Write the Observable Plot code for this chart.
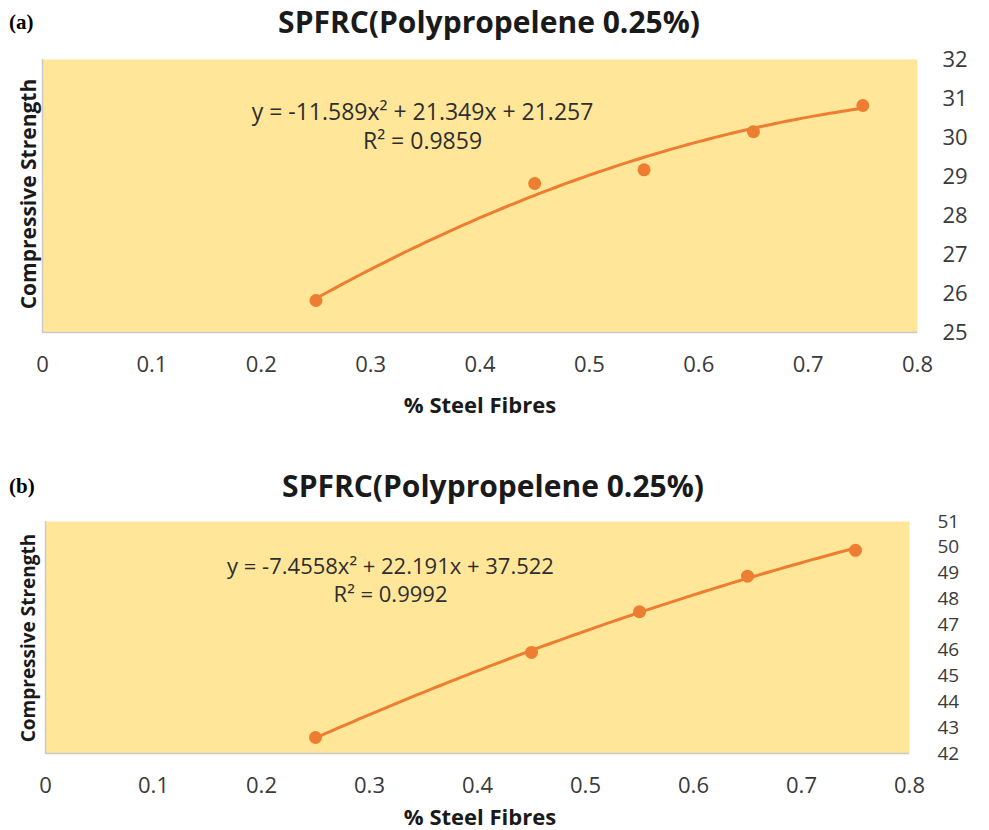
<!DOCTYPE html>
<html><head><meta charset="utf-8">
<script src="https://cdn.jsdelivr.net/npm/d3@7"></script>
<script src="https://cdn.jsdelivr.net/npm/@observablehq/plot@0.6"></script>
<style>
body{margin:0;background:#fff;}
#wrap{position:relative;width:989px;height:830px;overflow:hidden;font-family:"Open Sans",sans-serif;}
.abs{position:absolute;white-space:nowrap;line-height:1;}
.panel{position:absolute;left:0;}
.title{font-weight:700;font-size:30px;color:#1a1a1a;transform:translate(-50%,-50%);}
.tag{font-family:"Liberation Serif",serif;font-weight:700;font-size:21px;color:#000;transform:translate(0,-50%);}
.xlab{font-weight:700;font-size:22px;color:#1a1a1a;transform:translate(-50%,-50%);}
.ylab{font-weight:700;color:#1a1a1a;transform:translate(-50%,-50%) rotate(-90deg);}
</style></head>
<body><div id="wrap"></div>
<script>
// Shared
const xTicks = [0, 0.1, 0.2, 0.3, 0.4, 0.5, 0.6, 0.7, 0.8];
const fibre = [0.25, 0.45, 0.55, 0.65, 0.75];
const titleText = "SPFRC(Polypropelene 0.25%)";
const xLabel = "% Steel Fibres";
const yLabel = "Compressive Strength";

// Panel (a)
const strengthA = [25.82, 28.82, 29.17, 30.15, 30.82];
const yTicksA = [25, 26, 27, 28, 29, 30, 31, 32];
const coefA = [-11.589, 21.349, 21.257];
const eqA = ["y = -11.589x² + 21.349x + 21.257", "R² = 0.9859"];

// Panel (b)
const strengthB = [42.62, 45.92, 47.5, 48.88, 49.88];
const yTicksB = [42, 43, 44, 45, 46, 47, 48, 49, 50, 51];
const coefB = [-7.4558, 22.191, 37.522];
const eqB = ["y = -7.4558x² + 22.191x + 37.522", "R² = 0.9992"];

const orange = "#ED7D31";
const wrap = document.getElementById("wrap");

function panel(cfg) {
  const pts = fibre.map((f, i) => ({x: f, y: cfg.values[i]}));
  const [a, b, c] = cfg.coef;
  const trend = d3.range(0.25, 0.7501, 0.005).map(x => ({x, y: a * x * x + b * x + c}));
  const plot = Plot.plot({
    width: 989,
    height: cfg.height,
    marginTop: cfg.mt, marginBottom: cfg.mb, marginLeft: cfg.ml, marginRight: cfg.mr,
    style: {fontFamily: "Open Sans, sans-serif", background: "transparent", overflow: "visible"},
    x: {domain: [0, 0.8]},
    y: {domain: [cfg.yTicks[0], cfg.yTicks[cfg.yTicks.length - 1]]},
    marks: [
      Plot.frame({fill: "#FFE699", stroke: null}),
      Plot.ruleX([0], {stroke: "#c9c9c9", strokeWidth: 1.5}),
      Plot.ruleY([cfg.yTicks[0]], {stroke: "#c9c9c9", strokeWidth: 1.5}),
      Plot.axisX({ticks: xTicks, tickSize: 0, tickPadding: cfg.xpad, tickFormat: d => String(d), fontSize: 22, fill: "#3a3a3a", label: null}),
      Plot.axisY({anchor: "right", ticks: cfg.yTicks, tickSize: 0, tickPadding: cfg.ypad, tickFormat: d => String(d), fontSize: cfg.yfs, fill: "#3a3a3a", label: null, textAnchor: "start"}),
      Plot.line(trend, {x: "x", y: "y", stroke: orange, strokeWidth: 3}),
      Plot.dot(pts, {x: "x", y: "y", r: 6.5, fill: orange, stroke: null}),
      Plot.text([cfg.eq[0]], {frameAnchor: "top-left", lineAnchor: "middle", dx: cfg.eqx, dy: cfg.eqy, text: d => d, fontSize: cfg.eqfs, fill: "#2e2e2e", textAnchor: "middle"}),
      Plot.text([cfg.eq[1]], {frameAnchor: "top-left", lineAnchor: "middle", dx: cfg.eqx, dy: cfg.eqy + cfg.eqgap, text: d => d, fontSize: cfg.eqfs, fill: "#2e2e2e", textAnchor: "middle"})
    ]
  });
  plot.classList.add("panel");
  plot.style.top = cfg.top + "px";
  wrap.appendChild(plot);
  const add = (cls, txt, x, y, fs) => {
    const d = document.createElement("div");
    d.className = "abs " + cls; d.textContent = txt;
    d.style.left = x + "px"; d.style.top = y + "px";
    if (fs) d.style.fontSize = fs + "px";
    wrap.appendChild(d);
  };
  add("tag", cfg.tag, 9, cfg.titleY);
  add("title", titleText, cfg.titleX, cfg.titleY);
  add("xlab", xLabel, 480, cfg.xlabY);
  add("ylab", yLabel, 28, cfg.ylabY, cfg.ylfs);
}

panel({values: strengthA, yTicks: yTicksA, coef: coefA, eq: eqA, tag: "(a)",
  top: 0, height: 420, mt: 59, mb: 88, ml: 42, mr: 72, xpad: 24, ypad: 25, yfs: 22,
  eqx: 380, eqy: 53, eqgap: 29, eqfs: 23, titleX: 489, titleY: 22, xlabY: 404, ylabY: 194, ylfs: 21});
panel({values: strengthB, yTicks: yTicksB, coef: coefB, eq: eqB, tag: "(b)",
  top: 420, height: 410, mt: 101, mb: 77, ml: 45, mr: 80, xpad: 24, ypad: 28, yfs: 19,
  eqx: 345, eqy: 45, eqgap: 28, eqfs: 22, titleX: 493, titleY: 486, xlabY: 816, ylabY: 638, ylfs: 19});
</script></body></html>
